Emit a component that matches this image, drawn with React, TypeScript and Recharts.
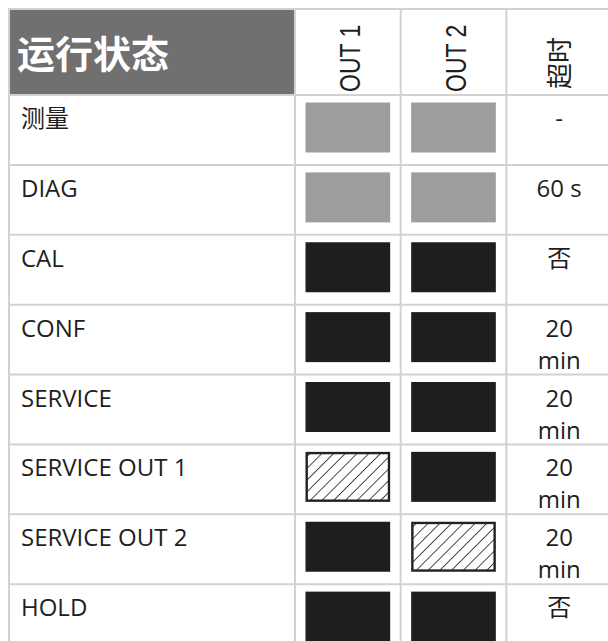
import React from "react";
import { BarChart, Bar, XAxis, YAxis, Customized } from "recharts";

// ---- data ----
const STATES = ["测量", "DIAG", "CAL", "CONF", "SERVICE", "SERVICE OUT 1", "SERVICE OUT 2", "HOLD"];
const OUT1 = ["active", "active", "hold", "hold", "hold", "manual", "hold", "hold"];
const OUT2 = ["active", "active", "hold", "hold", "hold", "hold", "manual", "hold"];
const TIMEOUT = ["-", "60 s", "否", "20\nmin", "20\nmin", "20\nmin", "20\nmin", "否"];
const COLUMNS = ["OUT 1", "OUT 2", "超时"];
const TITLE = "运行状态";
const COLUMN_SPAN = 1;

const data = STATES.map((s, i) => ({
  state: s,
  out1: COLUMN_SPAN,
  out2: COLUMN_SPAN,
  timeout: COLUMN_SPAN,
  out1Status: OUT1[i],
  out2Status: OUT2[i],
  timeoutText: TIMEOUT[i],
}));

// ---- layout ----
const CHART_W = 620;
const CHART_H = 660;
const MARGIN = { top: 8, right: 8, bottom: 6, left: 8 };
const Y_AXIS_W = 287;
const X_AXIS_H = 87;
const PLOT_L = MARGIN.left + Y_AXIS_W;
const PLOT_T = MARGIN.top + X_AXIS_H;
const PLOT_W = CHART_W - MARGIN.right - PLOT_L;
const PLOT_H = CHART_H - MARGIN.bottom - PLOT_T;
const BAND = PLOT_H / STATES.length;
const COL_W = PLOT_W / COLUMNS.length;

const GRID = "#d2d2d2";
const INK = "#1e1e1e";
const FONT = "'Open Sans', 'Noto Sans CJK SC', sans-serif";
const CJK = "'Noto Sans CJK SC', sans-serif";
const FILLS: Record<string, string> = { active: "#9d9d9d", hold: "#1e1e1e" };

const GridLayer = () => {
  const lines: React.ReactNode[] = [];
  lines.push(<line key="top" x1={MARGIN.left} x2={CHART_W} y1={MARGIN.top + 1} y2={MARGIN.top + 1} stroke={GRID} strokeWidth={2} />);
  lines.push(<line key="left" x1={MARGIN.left + 1} x2={MARGIN.left + 1} y1={MARGIN.top} y2={CHART_H} stroke={GRID} strokeWidth={2} />);
  for (let k = 0; k <= STATES.length; k++) {
    const y = PLOT_T + k * BAND;
    lines.push(<line key={"h" + k} x1={MARGIN.left} x2={CHART_W} y1={y} y2={y} stroke={GRID} strokeWidth={2} />);
  }
  for (let k = 0; k <= COLUMNS.length; k++) {
    const x = PLOT_L + k * COL_W;
    lines.push(<line key={"v" + k} x1={x} x2={x} y1={MARGIN.top} y2={CHART_H} stroke={GRID} strokeWidth={2} />);
  }
  return (
    <g>
      <rect x={MARGIN.left + 2} y={MARGIN.top + 2} width={Y_AXIS_W - 3} height={X_AXIS_H - 3} fill="#707070" />
      <text x={MARGIN.left + 9} y={MARGIN.top + 60} fill="#fff" fontSize={38} fontWeight={700} fontFamily={CJK}>
        {TITLE}
      </text>
      {lines}
    </g>
  );
};

const HeaderTick = (props: any) => {
  const { x, payload } = props;
  const label = COLUMNS[Math.floor(payload.value)];
  const isCjk = /[\u4e00-\u9fff]/.test(label);
  const baseY = PLOT_T - 3;
  if (isCjk) {
    return (
      <text transform={`translate(${x + 10}, ${baseY - 3}) rotate(-90)`} fontSize={26} fontFamily={CJK} fill={INK}>
        {label}
      </text>
    );
  }
  return (
    <text
      transform={`translate(${x + 12}, ${baseY}) rotate(-90) scale(1, 1.28)`}
      fontSize={23}
      fontFamily="'Liberation Sans', Arial, sans-serif"
      fill={INK}
    >
      {label}
    </text>
  );
};

const RowTick = (props: any) => {
  const { y, payload } = props;
  const top = y - BAND / 2;
  return (
    <text x={MARGIN.left + 13} y={top + 32} fontSize={24} fontFamily={FONT} fill={INK}>
      {payload.value}
    </text>
  );
};

const StatusCell = (statusKey: string) => (props: any) => {
  const { x, y, width, index } = props;
  const status = data[index][statusKey as "out1Status"];
  const bx = x + 10.5;
  const bw = width - 21;
  const by = y + 7.5;
  const bh = 50;
  if (status === "manual") {
    const id = `hatch-${statusKey}-${index}`;
    return (
      <g>
        <defs>
          <pattern id={id} patternUnits="userSpaceOnUse" width={8.3} height={8.3} patternTransform="rotate(45)">
            <line x1={0} y1={0} x2={0} y2={8.3} stroke={INK} strokeWidth={1.6} />
          </pattern>
        </defs>
        <rect x={bx + 1.2} y={by + 1.2} width={bw - 2.4} height={bh - 2.4} fill={`url(#${id})`} stroke="#222" strokeWidth={2.4} />
      </g>
    );
  }
  return <rect x={bx} y={by} width={bw} height={bh} fill={FILLS[status]} />;
};

const TimeoutCell = (props: any) => {
  const { x, y, width, index } = props;
  const lines = String(data[index].timeoutText).split("\n");
  const cx = x + width / 2;
  return (
    <text textAnchor="middle" fontSize={24} fontFamily={FONT} fill={INK}>
      {lines.map((l, i) => (
        <tspan key={i} x={cx} y={y + 32 + i * 32}>
          {l}
        </tspan>
      ))}
    </text>
  );
};

export default function App() {
  return (
    <div style={{ position: "fixed", left: 0, top: 0, width: 608, height: 641, overflow: "hidden", background: "#fff" }}>
      <BarChart
        width={CHART_W}
        height={CHART_H}
        data={data}
        layout="vertical"
        margin={MARGIN}
        barCategoryGap={0}
        barGap={0}
      >
        <Customized component={GridLayer} />
        <XAxis
          type="number"
          orientation="top"
          domain={[0, COLUMNS.length]}
          ticks={[0.5, 1.5, 2.5]}
          height={X_AXIS_H}
          axisLine={false}
          tickLine={false}
          tick={<HeaderTick />}
          interval={0}
        />
        <YAxis
          type="category"
          dataKey="state"
          width={Y_AXIS_W}
          axisLine={false}
          tickLine={false}
          tick={<RowTick />}
          interval={0}
        />
        <Bar dataKey="out1" stackId="a" fill="none" shape={StatusCell("out1Status")} isAnimationActive={false} />
        <Bar dataKey="out2" stackId="a" fill="none" shape={StatusCell("out2Status")} isAnimationActive={false} />
        <Bar dataKey="timeout" stackId="a" fill="none" shape={TimeoutCell} isAnimationActive={false} />
      </BarChart>
    </div>
  );
}
